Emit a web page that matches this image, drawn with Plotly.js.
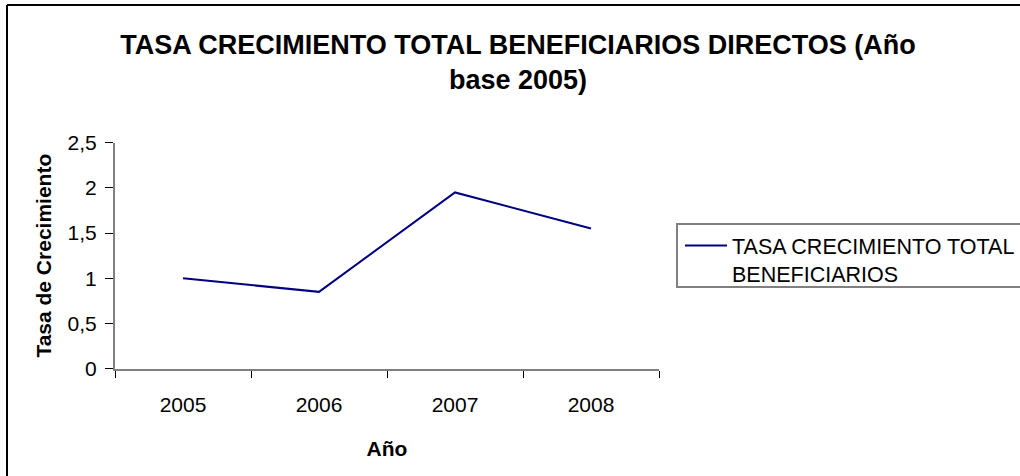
<!DOCTYPE html>
<html>
<head>
<meta charset="utf-8">
<script src="https://cdn.plot.ly/plotly-3.0.1.min.js"></script>
<style>html,body{margin:0;padding:0;background:#fff;}#chart{width:1020px;height:476px;}</style>
</head>
<body>
<div id="chart"></div>
<script>
const years = ["2005", "2006", "2007", "2008"];
const tasaCrecimiento = [1.0, 0.85, 1.95, 1.55];
const seriesName = "TASA CRECIMIENTO TOTAL<br>BENEFICIARIOS";
const yTickVals = [0, 0.5, 1, 1.5, 2, 2.5];
const yTickText = ["0", "0,5", "1", "1,5", "2", "2,5"];

const W = 1020, H = 476;
const FONT = "Liberation Sans, Arial, sans-serif";

const trace = {
  x: years,
  y: tasaCrecimiento,
  type: "scatter",
  mode: "lines",
  name: seriesName,
  line: {color: "#000080", width: 2}
};

const layout = {
  width: W, height: H,
  margin: {l: 0, r: 0, t: 0, b: 0, pad: 0, autoexpand: false},
  paper_bgcolor: "#ffffff",
  plot_bgcolor: "#ffffff",
  font: {family: FONT, color: "#000000", size: 21},
  title: {
    text: "<b>TASA CRECIMIENTO TOTAL BENEFICIARIOS DIRECTOS (Año<br>base 2005)</b>",
    x: 518 / W, xanchor: "center", xref: "paper",
    y: 1 - 53.5 / H, yanchor: "middle", yref: "container",
    font: {family: FONT, size: 27, color: "#000000"}
  },
  xaxis: {
    domain: [115 / W, 659 / W],
    type: "category",
    range: [-0.5, 3.5],
    tickson: "boundaries",
    ticks: "outside", ticklen: 7, tickwidth: 1, tickcolor: "#000000",
    showline: true, linecolor: "#808080", linewidth: 2,
    showgrid: false, zeroline: false,
    tickfont: {family: FONT, size: 21},
    ticklabelstandoff: 16,
    title: {text: "<b>Año</b>", font: {family: FONT, size: 21}, standoff: 26},
    automargin: false
  },
  yaxis: {
    domain: [(H - 368.7) / H, (H - 142.7) / H],
    range: [0, 2.5],
    tickvals: yTickVals, ticktext: yTickText,
    ticks: "outside", ticklen: 8, tickwidth: 1, tickcolor: "#000000",
    showline: true, linecolor: "#808080", linewidth: 2,
    showgrid: false, zeroline: false,
    tickfont: {family: FONT, size: 21},
    ticklabelstandoff: 4,
    title: {text: "<b>Tasa de Crecimiento</b>", font: {family: FONT, size: 21}, standoff: 10},
    automargin: false
  },
  showlegend: true,
  legend: {
    x: 680 / W, xanchor: "left",
    y: (H - 225) / H, yanchor: "top",
    valign: "top",
    bgcolor: "rgba(0,0,0,0)",
    borderwidth: 0,
    font: {family: FONT, size: 21.5, color: "#000000"},
    itemwidth: 42
  },
  shapes: [
    {type: "line", xref: "paper", yref: "paper", x0: 7 / W, x1: 7 / W, y0: 1 - 5 / H, y1: -0.05, line: {color: "#000000", width: 2}},
    {type: "line", xref: "paper", yref: "paper", x0: 7 / W, x1: 1.05, y0: 1 - 5 / H, y1: 1 - 5 / H, line: {color: "#000000", width: 2}},
    {type: "rect", xref: "paper", yref: "paper", x0: 677 / W, x1: 1.05, y0: (H - 287) / H, y1: (H - 224) / H, line: {color: "#808080", width: 2}, layer: "below"}
  ]
};

Plotly.newPlot("chart", [trace], layout, {staticPlot: true, displayModeBar: false});
</script>
</body>
</html>
